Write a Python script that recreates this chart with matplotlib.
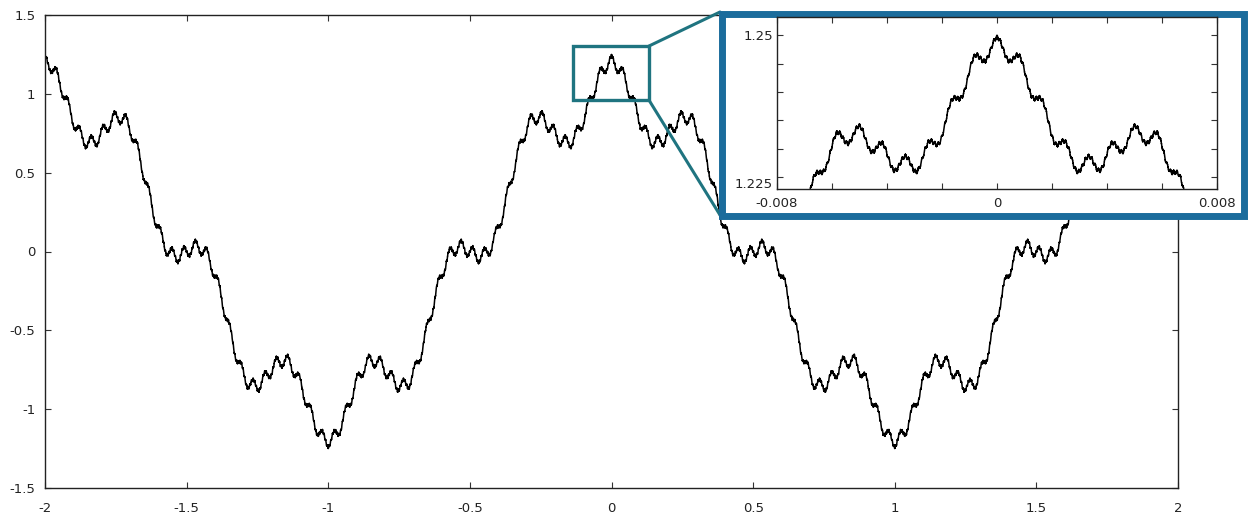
import numpy as np
import matplotlib
matplotlib.use("Agg")
import matplotlib.pyplot as plt
from matplotlib.patches import Rectangle, ConnectionPatch
from matplotlib.transforms import ScaledTranslation

# Weierstrass function W(x) = sum_n a^n cos(b^n * pi * x)
weierstrass_a = 0.2
weierstrass_b = 7
weierstrass_terms = 8

main_xlim = [-2, 2]
main_ylim = [-1.5, 1.5]
main_xticks = [-2, -1.5, -1, -0.5, 0, 0.5, 1, 1.5, 2]
main_xticklabels = ["-2", "-1.5", "-1", "-0.5", "0", "0.5", "1", "1.5", "2"]
main_yticks = [-1.5, -1, -0.5, 0, 0.5, 1, 1.5]
main_yticklabels = ["-1.5", "-1", "-0.5", "0", "0.5", "1", "1.5"]

zoom_box_x = [-0.135, 0.132]
zoom_box_y = [0.961, 1.303]

inset_xlim = [-0.008, 0.008]
inset_ylim = [1.2229, 1.2532]
inset_xticks = [-0.008, -0.006, -0.004, -0.002, 0, 0.002, 0.004, 0.006, 0.008]
inset_xticklabels = ["-0.008", "", "", "", "0", "", "", "", "0.008"]
inset_yticks = [1.225, 1.23, 1.235, 1.24, 1.245, 1.25]
inset_yticklabels = ["1.225", "", "", "", "", "1.25"]


def weierstrass(x):
    y = np.zeros_like(x)
    for n in range(weierstrass_terms):
        y += weierstrass_a ** n * np.cos(weierstrass_b ** n * np.pi * x)
    return y


W, H = 1253, 519
fig = plt.figure(figsize=(W / 100, H / 100), dpi=100)
plt.rcParams["font.family"] = ["DejaVu Sans"]
fs = 9.5

box_color = "#1f7480"
frame_color = "#1b6c9c"
text_color = "#222222"

# main axes
ax = fig.add_axes([45 / W, (H - 488) / H, (1178 - 45) / W, (488 - 15) / H])
xs = np.linspace(main_xlim[0], main_xlim[1], 80001)
ax.plot(xs, weierstrass(xs), color="black", lw=1.1)
ax.set_xlim(main_xlim)
ax.set_ylim(main_ylim)
ax.set_xticks(main_xticks)
ax.set_xticklabels(main_xticklabels)
ax.set_yticks(main_yticks)
ax.set_yticklabels(main_yticklabels)
ax.tick_params(direction="in", length=4, width=0.8, labelsize=fs,
               top=True, right=True, colors="#333333", labelcolor=text_color)
ax.tick_params(axis="x", pad=10)
ax.tick_params(axis="y", pad=7)
for sp in ax.spines.values():
    sp.set_linewidth(1.0)
    sp.set_color("#222222")

# highlighted region on the main curve
ax.add_patch(Rectangle((zoom_box_x[0], zoom_box_y[0]),
                       zoom_box_x[1] - zoom_box_x[0], zoom_box_y[1] - zoom_box_y[0],
                       fill=False, edgecolor=box_color, lw=2.4, zorder=5))

# thick frame around the magnified view
frame = Rectangle((721.5 / W, (H - 216) / H), (1243.5 - 721.5) / W, (216 - 13.5) / H,
                  transform=fig.transFigure, facecolor="white",
                  edgecolor=frame_color, lw=5.0, zorder=10)
fig.patches.append(frame)

# connector lines from the box to the frame
for ya, yb in [(zoom_box_y[1], 12), (zoom_box_y[0], 215)]:
    con = ConnectionPatch(xyA=(zoom_box_x[1], ya), coordsA=ax.transData,
                          xyB=(720 / W, (H - yb) / H), coordsB=fig.transFigure,
                          color=box_color, lw=2.2, zorder=6)
    ax.add_artist(con)

# magnified view
axi = fig.add_axes([777 / W, (H - 189) / H, (1217 - 777) / W, (189 - 17) / H], zorder=20)
xi = np.linspace(inset_xlim[0], inset_xlim[1], 40001)
axi.plot(xi, weierstrass(xi), color="black", lw=1.1)
axi.set_xlim(inset_xlim)
axi.set_ylim(inset_ylim)
axi.set_xticks(inset_xticks)
axi.set_xticklabels(inset_xticklabels)
axi.set_yticks(inset_yticks)
axi.set_yticklabels(inset_yticklabels)
axi.tick_params(direction="in", length=4, width=0.8, labelsize=fs,
                top=True, right=True, colors="#333333", labelcolor=text_color)
axi.tick_params(axis="x", pad=6)
axi.tick_params(axis="y", pad=3)
for sp in axi.spines.values():
    sp.set_linewidth(1.0)
    sp.set_color("#222222")

# the lowest y label sits a little below its tick
low_label = axi.get_yticklabels()[0]
low_label.set_transform(low_label.get_transform() + ScaledTranslation(0, -6 / 100, fig.dpi_scale_trans))

fig.savefig("out.png", dpi=100)
